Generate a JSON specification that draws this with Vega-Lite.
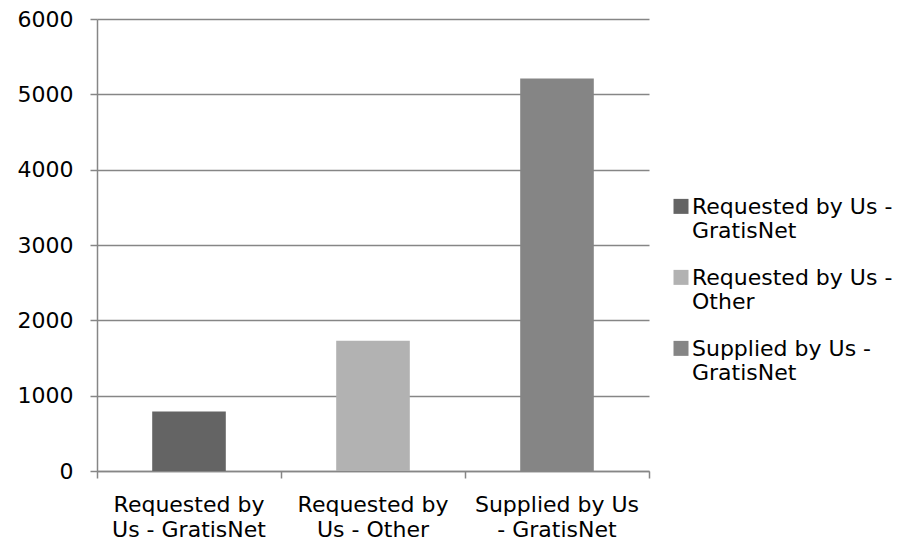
{
  "$schema": "https://vega.github.io/schema/vega-lite/v6.json",
  "width": 552,
  "height": 452,
  "autosize": "none",
  "padding": {"left": 97, "top": 19, "right": 267, "bottom": 74},
  "background": "white",
  "data": {
    "values": [
      {"category": "Requested by Us - GratisNet", "value": 790},
      {"category": "Requested by Us - Other", "value": 1730},
      {"category": "Supplied by Us - GratisNet", "value": 5210}
    ]
  },
  "config": {
    "view": {"stroke": null},
    "font": "DejaVu Sans",
    "axis": {
      "labelFont": "DejaVu Sans",
      "labelFontSize": 22,
      "labelColor": "#000000",
      "domainColor": "#868686",
      "tickColor": "#868686",
      "gridColor": "#868686",
      "domainWidth": 1.5,
      "tickWidth": 1.5,
      "gridWidth": 1.5,
      "tickSize": 7
    }
  },
  "mark": {"type": "bar", "width": {"band": 0.4}},
  "encoding": {
    "x": {
      "field": "category",
      "type": "nominal",
      "sort": null,
      "scale": {"paddingInner": 0, "paddingOuter": 0},
      "axis": {
        "title": null,
        "labelAngle": 0,
        "bandPosition": 1,
        "tickExtra": true,
        "labelPadding": 16,
        "labelLineHeight": 25.5,
        "labelBaseline": "top",
        "labelLimit": 300,
        "labelExpr": "datum.label == 'Requested by Us - GratisNet' ? ['Requested by', 'Us - GratisNet'] : datum.label == 'Requested by Us - Other' ? ['Requested by', 'Us - Other'] : datum.label == 'Supplied by Us - GratisNet' ? ['Supplied by Us', '- GratisNet'] : ''"
      }
    },
    "y": {
      "field": "value",
      "type": "quantitative",
      "scale": {"domain": [0, 6000], "nice": false},
      "axis": {
        "title": null,
        "values": [0, 1000, 2000, 3000, 4000, 5000, 6000],
        "grid": true,
        "labelPadding": 17,
        "format": "d"
      }
    },
    "color": {
      "field": "category",
      "type": "nominal",
      "sort": null,
      "scale": {
        "domain": ["Requested by Us - GratisNet", "Requested by Us - Other", "Supplied by Us - GratisNet"],
        "range": ["#646464", "#b2b2b2", "#858585"]
      },
      "legend": {
        "title": null,
        "orient": "none",
        "legendX": 573,
        "legendY": 167,
        "symbolType": "M-1,0.25L1,0.25L1,2.25L-1,2.25Z",
        "symbolSize": 225,
        "symbolStrokeWidth": 0,
        "labelFont": "DejaVu Sans",
        "labelFontSize": 22,
        "labelColor": "#000000",
        "labelLimit": 300,
        "labelOffset": 0,
        "labelLineHeight": 26.5,
        "labelBaseline": "top",
        "rowPadding": 15,
        "labelExpr": "datum.label == 'Requested by Us - GratisNet' ? ['Requested by Us -', 'GratisNet'] : datum.label == 'Requested by Us - Other' ? ['Requested by Us -', 'Other'] : ['Supplied by Us -', 'GratisNet']"
      }
    }
  }
}
